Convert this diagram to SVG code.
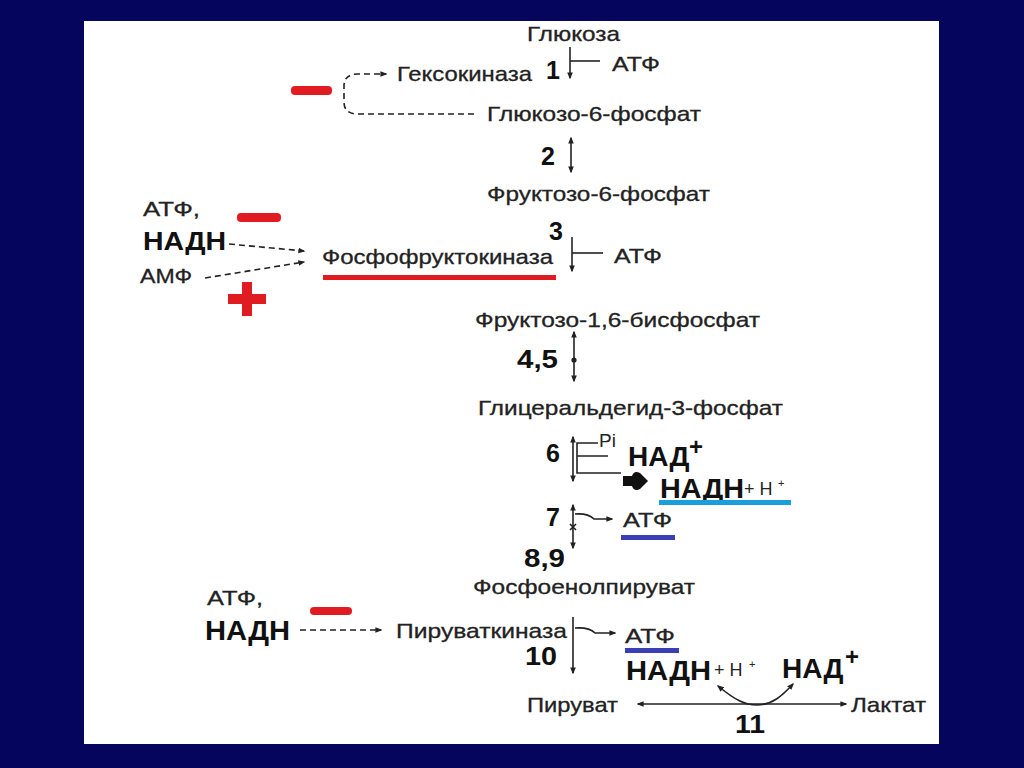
<svg xmlns="http://www.w3.org/2000/svg" width="1024" height="768" viewBox="0 0 1024 768">
<defs>
<style>
text{font-family:"Liberation Sans",Arial,sans-serif;fill:#222}
.t{font-size:21px;stroke:#222;stroke-width:0.3}
.n{font-size:25px;font-weight:bold;fill:#111}
.b{font-weight:bold;fill:#111}
.ln{stroke:#222;stroke-width:1.6;fill:none}
.d{stroke-dasharray:6,4}
.red{fill:#e01b22}
</style>
<marker id="ah" viewBox="0 0 10 10" refX="8" refY="5" markerWidth="7" markerHeight="7" markerUnits="userSpaceOnUse" orient="auto-start-reverse"><path d="M0,1 L10,5 L0,9 z" fill="#222"/></marker>
</defs>
<rect width="1024" height="768" fill="#05055e"/>
<rect x="84" y="21" width="855" height="723" fill="#ffffff"/>

<g id="connectors">
<line class="ln" x1="570" y1="47" x2="570" y2="78" marker-end="url(#ah)"/>
<line class="ln" x1="570" y1="61" x2="600" y2="61"/>
<path class="ln d" d="M474,114 L358,114 Q344,114 344,102 L344,86 Q344,74 358,74 L386,74" marker-end="url(#ah)"/>
<line class="ln" x1="571" y1="138" x2="571" y2="172" marker-start="url(#ah)" marker-end="url(#ah)"/>
<line class="ln" x1="572" y1="237" x2="572" y2="271" marker-end="url(#ah)"/>
<line class="ln" x1="572" y1="253" x2="603" y2="253"/>
<path class="ln d" d="M229,244 L304,251" marker-end="url(#ah)"/>
<path class="ln d" d="M205,278 L304,262" marker-end="url(#ah)"/>
<line class="ln" x1="574" y1="332" x2="574" y2="381" marker-start="url(#ah)" marker-end="url(#ah)"/>
<circle cx="574" cy="360" r="2.6" fill="#222"/>
<line class="ln" x1="573" y1="437" x2="573" y2="481" marker-start="url(#ah)" marker-end="url(#ah)"/>
<path class="ln" d="M598,443 L577,443 L577,473 L621,473 M577,456 L608,456"/>
<path d="M623,476 L632,476 Q634,470 640,473 L648,481 L640,489 Q634,492 632,486 L623,486 z" fill="#111"/>
<line class="ln" x1="573" y1="505" x2="573" y2="548" marker-start="url(#ah)" marker-end="url(#ah)"/>
<path class="ln" d="M570,524 L576,530 M576,524 L570,530"/>
<path class="ln" d="M575,514 Q588,513 594,519 L612,519" marker-end="url(#ah)"/>
<line class="ln" x1="300" y1="630" x2="381" y2="630" stroke-dasharray="6,4" marker-end="url(#ah)"/>
<line class="ln" x1="573" y1="617" x2="573" y2="673" marker-end="url(#ah)"/>
<path class="ln" d="M575,628 Q589,627 595,633 L615,633" marker-end="url(#ah)"/>
<line class="ln" x1="638" y1="704" x2="846" y2="704" marker-start="url(#ah)" marker-end="url(#ah)"/>
<path class="ln" d="M718,686 C735,700 745,705 757,705 C772,705 782,696 793,684" marker-start="url(#ah)" marker-end="url(#ah)"/>
</g>

<g id="glucose"><text class="t" x="527" y="41" textLength="93" lengthAdjust="spacingAndGlyphs">Глюкоза</text></g>
<g id="step1"><text class="n" x="546" y="79">1</text><text class="t" x="612" y="71" textLength="48" lengthAdjust="spacingAndGlyphs">АТФ</text></g>
<g id="hexokinase"><text class="t" x="397" y="81" textLength="135" lengthAdjust="spacingAndGlyphs">Гексокиназа</text><rect class="red" x="291" y="86" width="41" height="9" rx="4"/></g>
<g id="g6p"><text class="t" x="487" y="121" textLength="214" lengthAdjust="spacingAndGlyphs">Глюкозо-6-фосфат</text></g>
<g id="step2"><text class="n" x="541" y="165">2</text></g>
<g id="f6p"><text class="t" x="487" y="201" textLength="223" lengthAdjust="spacingAndGlyphs">Фруктозо-6-фосфат</text></g>
<g id="pfk-regulators">
<text class="t" x="143" y="216" textLength="57" lengthAdjust="spacingAndGlyphs">АТФ,</text>
<text class="b" x="143" y="250" font-size="26" textLength="83" lengthAdjust="spacingAndGlyphs">НАДН</text>
<text class="t" x="140" y="283" textLength="52" lengthAdjust="spacingAndGlyphs">АМФ</text>
<rect class="red" x="237" y="213" width="44" height="9" rx="4"/>
<rect class="red" x="228" y="294" width="38" height="10"/>
<rect class="red" x="242" y="282" width="10" height="34"/>
</g>
<g id="pfk"><text class="t" x="322" y="264" textLength="231" lengthAdjust="spacingAndGlyphs">Фосфофруктокиназа</text><rect class="red" x="323" y="275" width="233" height="5"/></g>
<g id="step3"><text class="n" x="549" y="240">3</text><text class="t" x="614" y="263" textLength="48" lengthAdjust="spacingAndGlyphs">АТФ</text></g>
<g id="f16bp"><text class="t" x="475" y="327" textLength="285" lengthAdjust="spacingAndGlyphs">Фруктозо-1,6-бисфосфат</text></g>
<g id="step45"><text class="n" x="517" y="368" textLength="41" lengthAdjust="spacingAndGlyphs">4,5</text></g>
<g id="g3p"><text class="t" x="478" y="415" textLength="305" lengthAdjust="spacingAndGlyphs">Глицеральдегид-3-фосфат</text></g>
<g id="step6">
<text class="n" x="546" y="462">6</text>
<text x="599" y="447" font-size="19">Pi</text>
<text class="b" x="628" y="466" font-size="28">НАД</text><text class="b" x="689" y="455" font-size="24">+</text>
<text class="b" x="660" y="498" font-size="28" textLength="84" lengthAdjust="spacingAndGlyphs">НАДН</text><text x="744" y="495" font-size="18">+ Н</text><text x="778" y="487" font-size="11">+</text>
<rect x="659" y="500" width="132" height="5" fill="#1a9fdc"/>
</g>
<g id="step7"><text class="n" x="546" y="526">7</text><text class="t" x="623" y="527" textLength="49" lengthAdjust="spacingAndGlyphs">АТФ</text><rect x="621" y="535" width="54" height="5" fill="#3a3fb5"/></g>
<g id="step89"><text class="n" x="524" y="567" textLength="41" lengthAdjust="spacingAndGlyphs">8,9</text></g>
<g id="pep"><text class="t" x="473" y="594" textLength="222" lengthAdjust="spacingAndGlyphs">Фосфоенолпируват</text></g>
<g id="pk-regulators">
<text class="t" x="207" y="605" textLength="56" lengthAdjust="spacingAndGlyphs">АТФ,</text>
<text class="b" x="205" y="640" font-size="27" textLength="85" lengthAdjust="spacingAndGlyphs">НАДН</text>
<rect class="red" x="310" y="607" width="42" height="8" rx="4"/>
</g>
<g id="pk"><text class="t" x="396" y="638" textLength="171" lengthAdjust="spacingAndGlyphs">Пируваткиназа</text></g>
<g id="step10">
<text class="n" x="525" y="665" textLength="32" lengthAdjust="spacingAndGlyphs">10</text>
<text class="t" x="625" y="643" textLength="50" lengthAdjust="spacingAndGlyphs">АТФ</text><rect x="625" y="648" width="54" height="5" fill="#3a3fb5"/>
<text class="b" x="626" y="680" font-size="28" textLength="85" lengthAdjust="spacingAndGlyphs">НАДН</text><text x="714" y="676" font-size="18">+ Н</text><text x="749" y="668" font-size="11">+</text>
<text class="b" x="782" y="678" font-size="28">НАД</text><text class="b" x="845" y="665" font-size="24">+</text>
</g>
<g id="pyruvate"><text class="t" x="527" y="712" textLength="91" lengthAdjust="spacingAndGlyphs">Пируват</text></g>
<g id="lactate"><text class="t" x="851" y="712" textLength="75" lengthAdjust="spacingAndGlyphs">Лактат</text></g>
<g id="step11"><text class="n" x="735" y="733" textLength="30" lengthAdjust="spacingAndGlyphs">11</text></g>
</svg>
